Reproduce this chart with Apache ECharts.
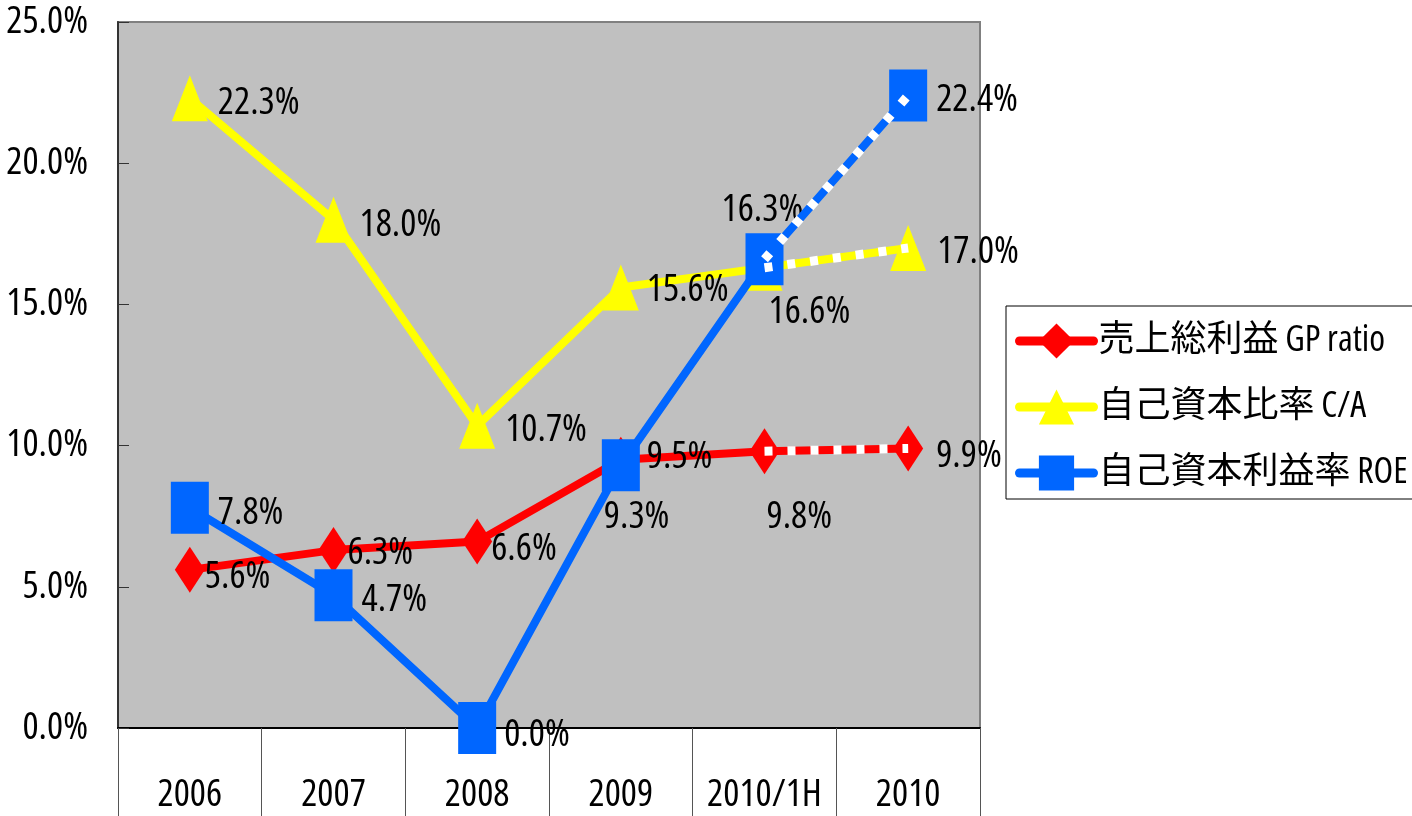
<!DOCTYPE html>
<html>
<head>
<meta charset="utf-8">
<script src="https://cdn.jsdelivr.net/npm/echarts@6.0.0/dist/echarts.min.js"></script>
<style>
  html, body { margin: 0; padding: 0; background: #fff; }
  #chart { width: 1412px; height: 816px; }
</style>
</head>
<body>
<div id="chart"></div>
<script>
// Periods on the category axis
const categories = ['2006', '2007', '2008', '2009', '2010/1H', '2010'];

// Ratios in percent
const gpRatio = [5.6, 6.3, 6.6, 9.5, 9.8, 9.9];
const capitalRatio = [22.3, 18.0, 10.7, 15.6, 16.3, 17.0];
const roe = [7.8, 4.7, 0.0, 9.3, 16.6, 22.4];

// Series names (legend)
const seriesNames = ['売上総利益 GP ratio', '自己資本比率 C/A', '自己資本利益率 ROE'];

// Value-axis range
const yMin = 0, yMax = 25, yStep = 5;

// Label placement per point: [left edge dx, centre dy] from the marker centre
const gpLabelOffsets = [[15, 7], [14, 3], [14, 8], [26, -3], [2, 66], [28, 8]];
const caLabelOffsets = [[28, 5], [26, 5], [28, 4], [26, 3], [-43, -58], [29, 4]];
const roeLabelOffsets = [[28, 5], [28, 5], [27, 7], [-17, 52], [4, 53], [28, 5]];

// Narrow gothic look: condensed Open Sans for Latin, Noto CJK for kanji
const FONT = "'Open Sans', 'Noto Sans CJK JP', sans-serif";
const STRETCH = 'condensed';
const FS = 38;
const LEGEND_FS = 36;

function withLabels(values, offsets) {
  return values.map((v, i) => ({
    value: v,
    label: {
      show: true,
      position: 'inside',
      align: 'left',
      verticalAlign: 'middle',
      offset: offsets[i],
      formatter: (p) => p.value.toFixed(1) + '%',
      color: '#000',
      fontStyle: STRETCH,
      fontFamily: FONT,
      fontSize: FS
    }
  }));
}

// Forecast segment (half-year to full year) drawn as a white dotted overlay
function forecastSegment(values) {
  return values.map((v, i) => (i >= values.length - 2 ? v : null));
}

function overlay(values) {
  return {
    type: 'line',
    data: forecastSegment(values),
    symbol: 'none',
    silent: true,
    z: 5,
    lineStyle: { color: '#FFFFFF', width: 9, type: [8, 15], cap: 'butt' },
    label: { show: false },
    emphasis: { disabled: true },
    tooltip: { show: false }
  };
}

const chart = echarts.init(document.getElementById('chart'), null, { renderer: 'canvas' });

chart.setOption({
  animation: false,
  grid: {
    left: 118, right: 432, top: 22, bottom: 88,
    containLabel: false,
    outerBoundsMode: 'none',
    show: true,
    backgroundColor: '#C0C0C0',
    borderColor: '#808080',
    borderWidth: 2
  },
  legend: {
    data: seriesNames,
    orient: 'vertical',
    left: 1006,
    top: 306,
    borderColor: '#000',
    borderWidth: 1,
    borderRadius: 0,
    padding: [17, 10, 8, 9],
    itemWidth: 74,
    itemHeight: 44,
    itemGap: 30,
    textStyle: {
      fontFamily: FONT, fontStyle: STRETCH, fontSize: LEGEND_FS,
      color: '#000', padding: [0, 0, 0, 0]
    },
    lineStyle: { width: 9, cap: 'round' }
  },
  xAxis: {
    type: 'category',
    data: categories,
    boundaryGap: true,
    axisLine: { show: true, lineStyle: { color: '#000', width: 2 } },
    axisTick: { show: true, interval: 0, length: 90, lineStyle: { color: '#555', width: 1 } },
    axisLabel: {
      interval: 0, margin: 48,
      fontFamily: FONT, fontStyle: STRETCH, fontSize: FS, color: '#000'
    },
    splitLine: { show: false }
  },
  yAxis: {
    type: 'value',
    min: yMin, max: yMax, interval: yStep,
    axisLine: { show: true, lineStyle: { color: '#333', width: 2 } },
    axisTick: { show: true, inside: true, length: 11, lineStyle: { color: '#333', width: 1 } },
    axisLabel: {
      margin: 30,
      fontFamily: FONT, fontStyle: STRETCH, fontSize: FS, color: '#000',
      formatter: (v) => v.toFixed(1) + '%'
    },
    splitLine: { show: false }
  },
  series: [
    {
      name: seriesNames[0],
      type: 'line',
      data: withLabels(gpRatio, gpLabelOffsets),
      symbol: 'diamond',
      symbolSize: [30, 46],
      z: 2,
      itemStyle: { color: '#FF0000' },
      lineStyle: { color: '#FF0000', width: 8 }
    },
    {
      name: seriesNames[1],
      type: 'line',
      data: withLabels(capitalRatio, caLabelOffsets),
      symbol: 'triangle',
      symbolSize: [36, 46],
      z: 3,
      itemStyle: { color: '#FFFF00' },
      lineStyle: { color: '#FFFF00', width: 8 }
    },
    {
      name: seriesNames[2],
      type: 'line',
      data: withLabels(roe, roeLabelOffsets),
      symbol: 'rect',
      symbolSize: [38, 52],
      z: 4,
      itemStyle: { color: '#0066FF' },
      lineStyle: { color: '#0066FF', width: 8 }
    },
    overlay(gpRatio),
    overlay(capitalRatio),
    overlay(roe)
  ]
});
</script>
</body>
</html>
